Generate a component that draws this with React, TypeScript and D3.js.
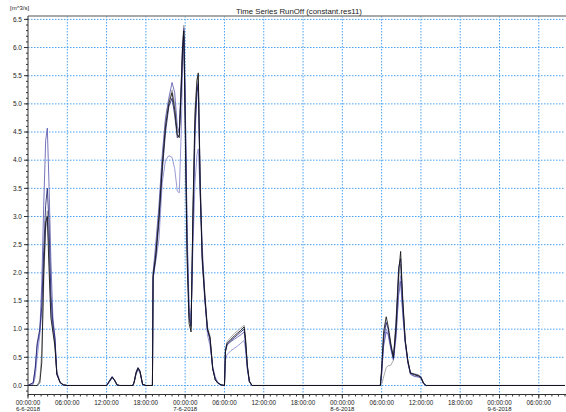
import * as d3 from 'd3';

// hours since 6-6-2018 00:00
const hours = [
  0, 0.8, 1.1, 1.4, 1.8, 2.1, 2.4, 2.7, 2.95, 3.2, 3.5, 3.8, 4.1, 4.4, 4.9, 5.4, 6.0,
  12.0, 12.4, 12.85, 13.2, 13.6, 14.0,
  16.0, 16.2, 16.5, 16.8, 17.1, 17.5, 18.0,
  19.0, 19.1, 19.5, 20.0, 20.5, 21.0, 21.5, 22.0, 22.4, 22.8, 23.1, 23.4, 23.6, 23.8, 24.0, 24.3,
  24.6, 24.9, 25.2, 25.5, 25.8, 26.0, 26.3, 26.6, 27.0, 27.4, 27.8, 28.2, 28.6, 29.0, 29.5, 30.0,
  30.15, 30.4, 31.0, 31.5, 32.0, 32.5, 33.0, 33.2, 33.5, 33.8, 34.2,
  53.8, 54.0, 54.3, 54.7, 55.0, 55.4, 55.8, 56.2, 56.6, 56.9, 57.2, 57.6, 58.0, 58.4, 59.0, 59.6,
  60.0, 60.4, 60.8,
  82,
];

const runBlack = [
  0, 0, 0, 0, 0.05, 0.4, 2.0, 2.9, 3.0, 2.1, 1.2, 0.95, 0.7, 0.2, 0.06, 0.01, 0,
  0, 0.07, 0.15, 0.1, 0.01, 0,
  0, 0.05, 0.22, 0.31, 0.25, 0.02, 0,
  0, 1.95, 2.3, 3.0, 3.9, 4.6, 5.0, 5.2, 4.9, 4.45, 4.4, 5.3, 6.0, 6.3, 4.6, 2.2,
  1.1, 0.95, 3.2, 4.8, 5.4, 5.55, 3.5, 2.3, 1.6, 1.0, 0.85, 0.3, 0.1, 0.04, 0.01, 0,
  0.62, 0.75, 0.82, 0.88, 0.93, 0.98, 1.04, 0.85, 0.35, 0.08, 0,
  0, 0.3, 0.95, 1.22, 1.05, 0.75, 0.5, 1.0, 2.0, 2.38, 1.6, 0.8, 0.45, 0.22, 0.19, 0.17,
  0.14, 0.04, 0,
  0,
];

const runNavy = [
  0, 0.05, 0.3, 0.75, 1.0, 1.4, 2.4, 3.2, 3.5, 2.9, 1.6, 1.1, 0.85, 0.2, 0.05, 0.01, 0,
  0, 0.08, 0.16, 0.1, 0.01, 0,
  0, 0.06, 0.24, 0.32, 0.26, 0.02, 0,
  0, 1.9, 2.25, 2.9, 3.8, 4.5, 4.95, 5.1, 4.8, 4.4, 4.45, 5.2, 5.9, 6.2, 4.8, 2.4,
  1.2, 1.05, 3.0, 4.6, 5.2, 5.35, 3.4, 2.2, 1.55, 1.0, 0.82, 0.3, 0.1, 0.04, 0.01, 0,
  0.6, 0.73, 0.8, 0.85, 0.9, 0.95, 1.0, 0.8, 0.32, 0.07, 0,
  0, 0.25, 0.85, 1.12, 1.0, 0.7, 0.48, 1.1, 2.1, 2.25, 1.5, 0.8, 0.42, 0.22, 0.2, 0.18,
  0.15, 0.04, 0,
  0,
];

const runSlate = [
  0, 0.05, 0.3, 0.7, 0.95, 1.8, 3.2, 4.35, 4.57, 3.6, 2.2, 1.2, 0.87, 0.25, 0.05, 0.01, 0,
  0, 0.06, 0.13, 0.09, 0.01, 0,
  0, 0.05, 0.2, 0.28, 0.23, 0.02, 0,
  0, 2.0, 2.5, 3.2, 4.1, 4.75, 5.1, 5.38, 5.2, 4.6, 4.5, 5.4, 6.0, 6.35, 5.2, 2.6,
  1.3, 1.1, 2.8, 4.4, 5.2, 5.4, 3.6, 2.3, 1.5, 1.0, 0.8, 0.3, 0.12, 0.05, 0.01, 0,
  0.6, 0.72, 0.78, 0.82, 0.86, 0.9, 0.95, 0.75, 0.3, 0.07, 0,
  0, 0.2, 0.7, 0.95, 0.9, 0.65, 0.45, 0.9, 1.6, 1.85, 1.3, 0.75, 0.4, 0.2, 0.16, 0.15,
  0.13, 0.03, 0,
  0,
];

const runLilac = [
  0, 0.02, 0.15, 0.5, 0.9, 1.3, 2.2, 2.8, 3.0, 2.5, 1.4, 1.0, 0.8, 0.2, 0.05, 0.01, 0,
  0, 0.06, 0.14, 0.09, 0.01, 0,
  0, 0.05, 0.21, 0.29, 0.24, 0.02, 0,
  0, 1.9, 2.2, 2.6, 3.6, 4.0, 4.08, 4.05, 3.85, 3.45, 3.42, 4.5, 5.6, 6.2, 5.0, 2.8,
  1.4, 1.2, 2.5, 3.6, 4.1, 4.2, 3.4, 2.5, 1.6, 0.9, 0.7, 0.35, 0.15, 0.06, 0.01, 0,
  0.45, 0.55, 0.62, 0.66, 0.7, 0.75, 0.8, 0.65, 0.28, 0.06, 0,
  0, 0.2, 0.75, 1.0, 0.92, 0.68, 0.46, 0.85, 1.7, 1.95, 1.35, 0.78, 0.42, 0.2, 0.17, 0.16,
  0.14, 0.03, 0,
  0,
];

const runGray = [
  0, 0, 0, 0, 0.1, 0.6, 1.8, 2.8, 3.1, 2.4, 1.3, 1.0, 0.75, 0.22, 0.06, 0.01, 0,
  0, 0.07, 0.15, 0.1, 0.01, 0,
  0, 0.05, 0.22, 0.3, 0.25, 0.02, 0,
  0, 2.0, 2.35, 3.05, 4.0, 4.7, 5.05, 5.25, 5.0, 4.5, 4.5, 5.4, 6.1, 6.4, 5.1, 2.5,
  1.25, 1.0, 3.1, 4.9, 5.45, 5.5, 3.7, 2.4, 1.65, 1.05, 0.88, 0.32, 0.1, 0.04, 0.01, 0,
  0.65, 0.78, 0.86, 0.92, 0.97, 1.02, 1.07, 0.88, 0.36, 0.08, 0,
  0, 0.02, 0.15, 0.32, 0.35, 0.36, 0.45, 1.2, 1.9, 2.15, 1.5, 0.8, 0.44, 0.23, 0.21, 0.19,
  0.16, 0.05, 0,
  0,
];

// drawn in this order, black ends on top
const seriesList = [
  { name: 'gray', values: runGray, color: '#9c9c9c' },
  { name: 'lilac', values: runLilac, color: '#8888cc' },
  { name: 'slate', values: runSlate, color: '#5c5cb0' },
  { name: 'navy', values: runNavy, color: '#22226e' },
  { name: 'black', values: runBlack, color: '#111111' },
];

const yTicks = [0, 0.5, 1, 1.5, 2, 2.5, 3, 3.5, 4, 4.5, 5, 5.5, 6, 6.5];
const title = 'Time Series RunOff (constant.res11)';
const unitLabel = '[m^3/s]';

const W = 566;
const H = 412;
const m = { left: 28, right: 1, top: 16, bottom: 17.5 };
const t0 = new Date(2018, 5, 6, 0, 0, 0);
const hToDate = (h: number) => new Date(t0.getTime() + h * 3600e3);

export default function App() {
  const x = d3.scaleTime().domain([t0, hToDate(82)]).range([m.left, W - m.right]);
  const y = d3.scaleLinear().domain([-0.16, 6.56]).range([H - m.bottom, m.top]);
  const bottom = H - m.bottom;

  const majorX = x.ticks(d3.timeHour.every(6)!).filter(d => x(d) > m.left - 0.5);
  const minorX = x.ticks(d3.timeHour.every(1)!);
  const minorY = d3.range(-1, 66).map(i => i / 10).filter(v => y(v) <= bottom && y(v) >= m.top);

  const line = d3.line<number>()
    .x((_, i) => x(hToDate(hours[i])))
    .y(v => y(v));

  const fmtTime = d3.timeFormat('%H:%M:%S');
  const fmtDay = (d: Date) => `${d.getDate()}-${d.getMonth() + 1}-${d.getFullYear()}`;
  const font = 'Liberation Sans, Arial, sans-serif';

  return (
    <svg width={W} height={H} style={{ position: 'absolute', left: 0, top: 0, background: '#fff' }} fontFamily={font}>
      <defs>
        <clipPath id="plot">
          <rect x={m.left} y={m.top} width={W - m.right - m.left} height={bottom - m.top} />
        </clipPath>
      </defs>

      {/* grid */}
      {yTicks.map(v => (
        <line key={'gy' + v} x1={m.left} x2={W - m.right} y1={y(v)} y2={y(v)}
          stroke="#4aa2f5" strokeWidth={1} strokeDasharray="1.5,1.5" />
      ))}
      {majorX.filter(d => x(d) > m.left + 1).map(d => (
        <line key={'gx' + d.getTime()} x1={x(d)} x2={x(d)} y1={m.top} y2={bottom}
          stroke="#4aa2f5" strokeWidth={1} strokeDasharray="1.5,1.5" />
      ))}

      {/* series */}
      <g clipPath="url(#plot)">
        {seriesList.map(s => (
          <path key={s.name} d={line(s.values) || ''} fill="none" stroke={s.color} strokeWidth={0.85} />
        ))}
      </g>

      {/* frame */}
      <line x1={m.left} x2={W} y1={m.top} y2={m.top} stroke="#8c8c8c" strokeWidth={1.5} />
      <line x1={m.left} x2={m.left} y1={m.top} y2={bottom} stroke="#333" strokeWidth={1} />
      <line x1={m.left} x2={W} y1={bottom} y2={bottom} stroke="#333" strokeWidth={1} />

      {/* y axis */}
      {minorY.map(v => (
        <line key={'my' + v} x1={m.left - 2} x2={m.left} y1={y(v)} y2={y(v)} stroke="#333" />
      ))}
      {yTicks.map(v => (
        <g key={'ty' + v}>
          <line x1={m.left - 4} x2={m.left} y1={y(v)} y2={y(v)} stroke="#333" />
          <text x={22} y={y(v)} dy="0.35em" textAnchor="end" fontSize={6.5} fill="#222">{v.toFixed(1)}</text>
        </g>
      ))}
      <text x={10} y={10} fontSize={6} fill="#222">{unitLabel}</text>

      {/* x axis */}
      {minorX.map(d => (
        <line key={'mx' + d.getTime()} x1={x(d)} x2={x(d)} y1={bottom} y2={bottom + 2} stroke="#333" />
      ))}
      {majorX.map(d => (
        <g key={'tx' + d.getTime()}>
          <line x1={x(d)} x2={x(d)} y1={bottom} y2={bottom + 4} stroke="#333" />
          <text x={x(d)} y={404.5} textAnchor="middle" fontSize={6.3} fill="#222">{fmtTime(d)}</text>
          {d.getHours() === 0 && (
            <text x={x(d)} y={411.2} textAnchor="middle" fontSize={6} fill="#222">{fmtDay(d)}</text>
          )}
        </g>
      ))}

      <text x={299} y={14} textAnchor="middle" fontSize={7.8} fill="#222">{title}</text>
    </svg>
  );
}
